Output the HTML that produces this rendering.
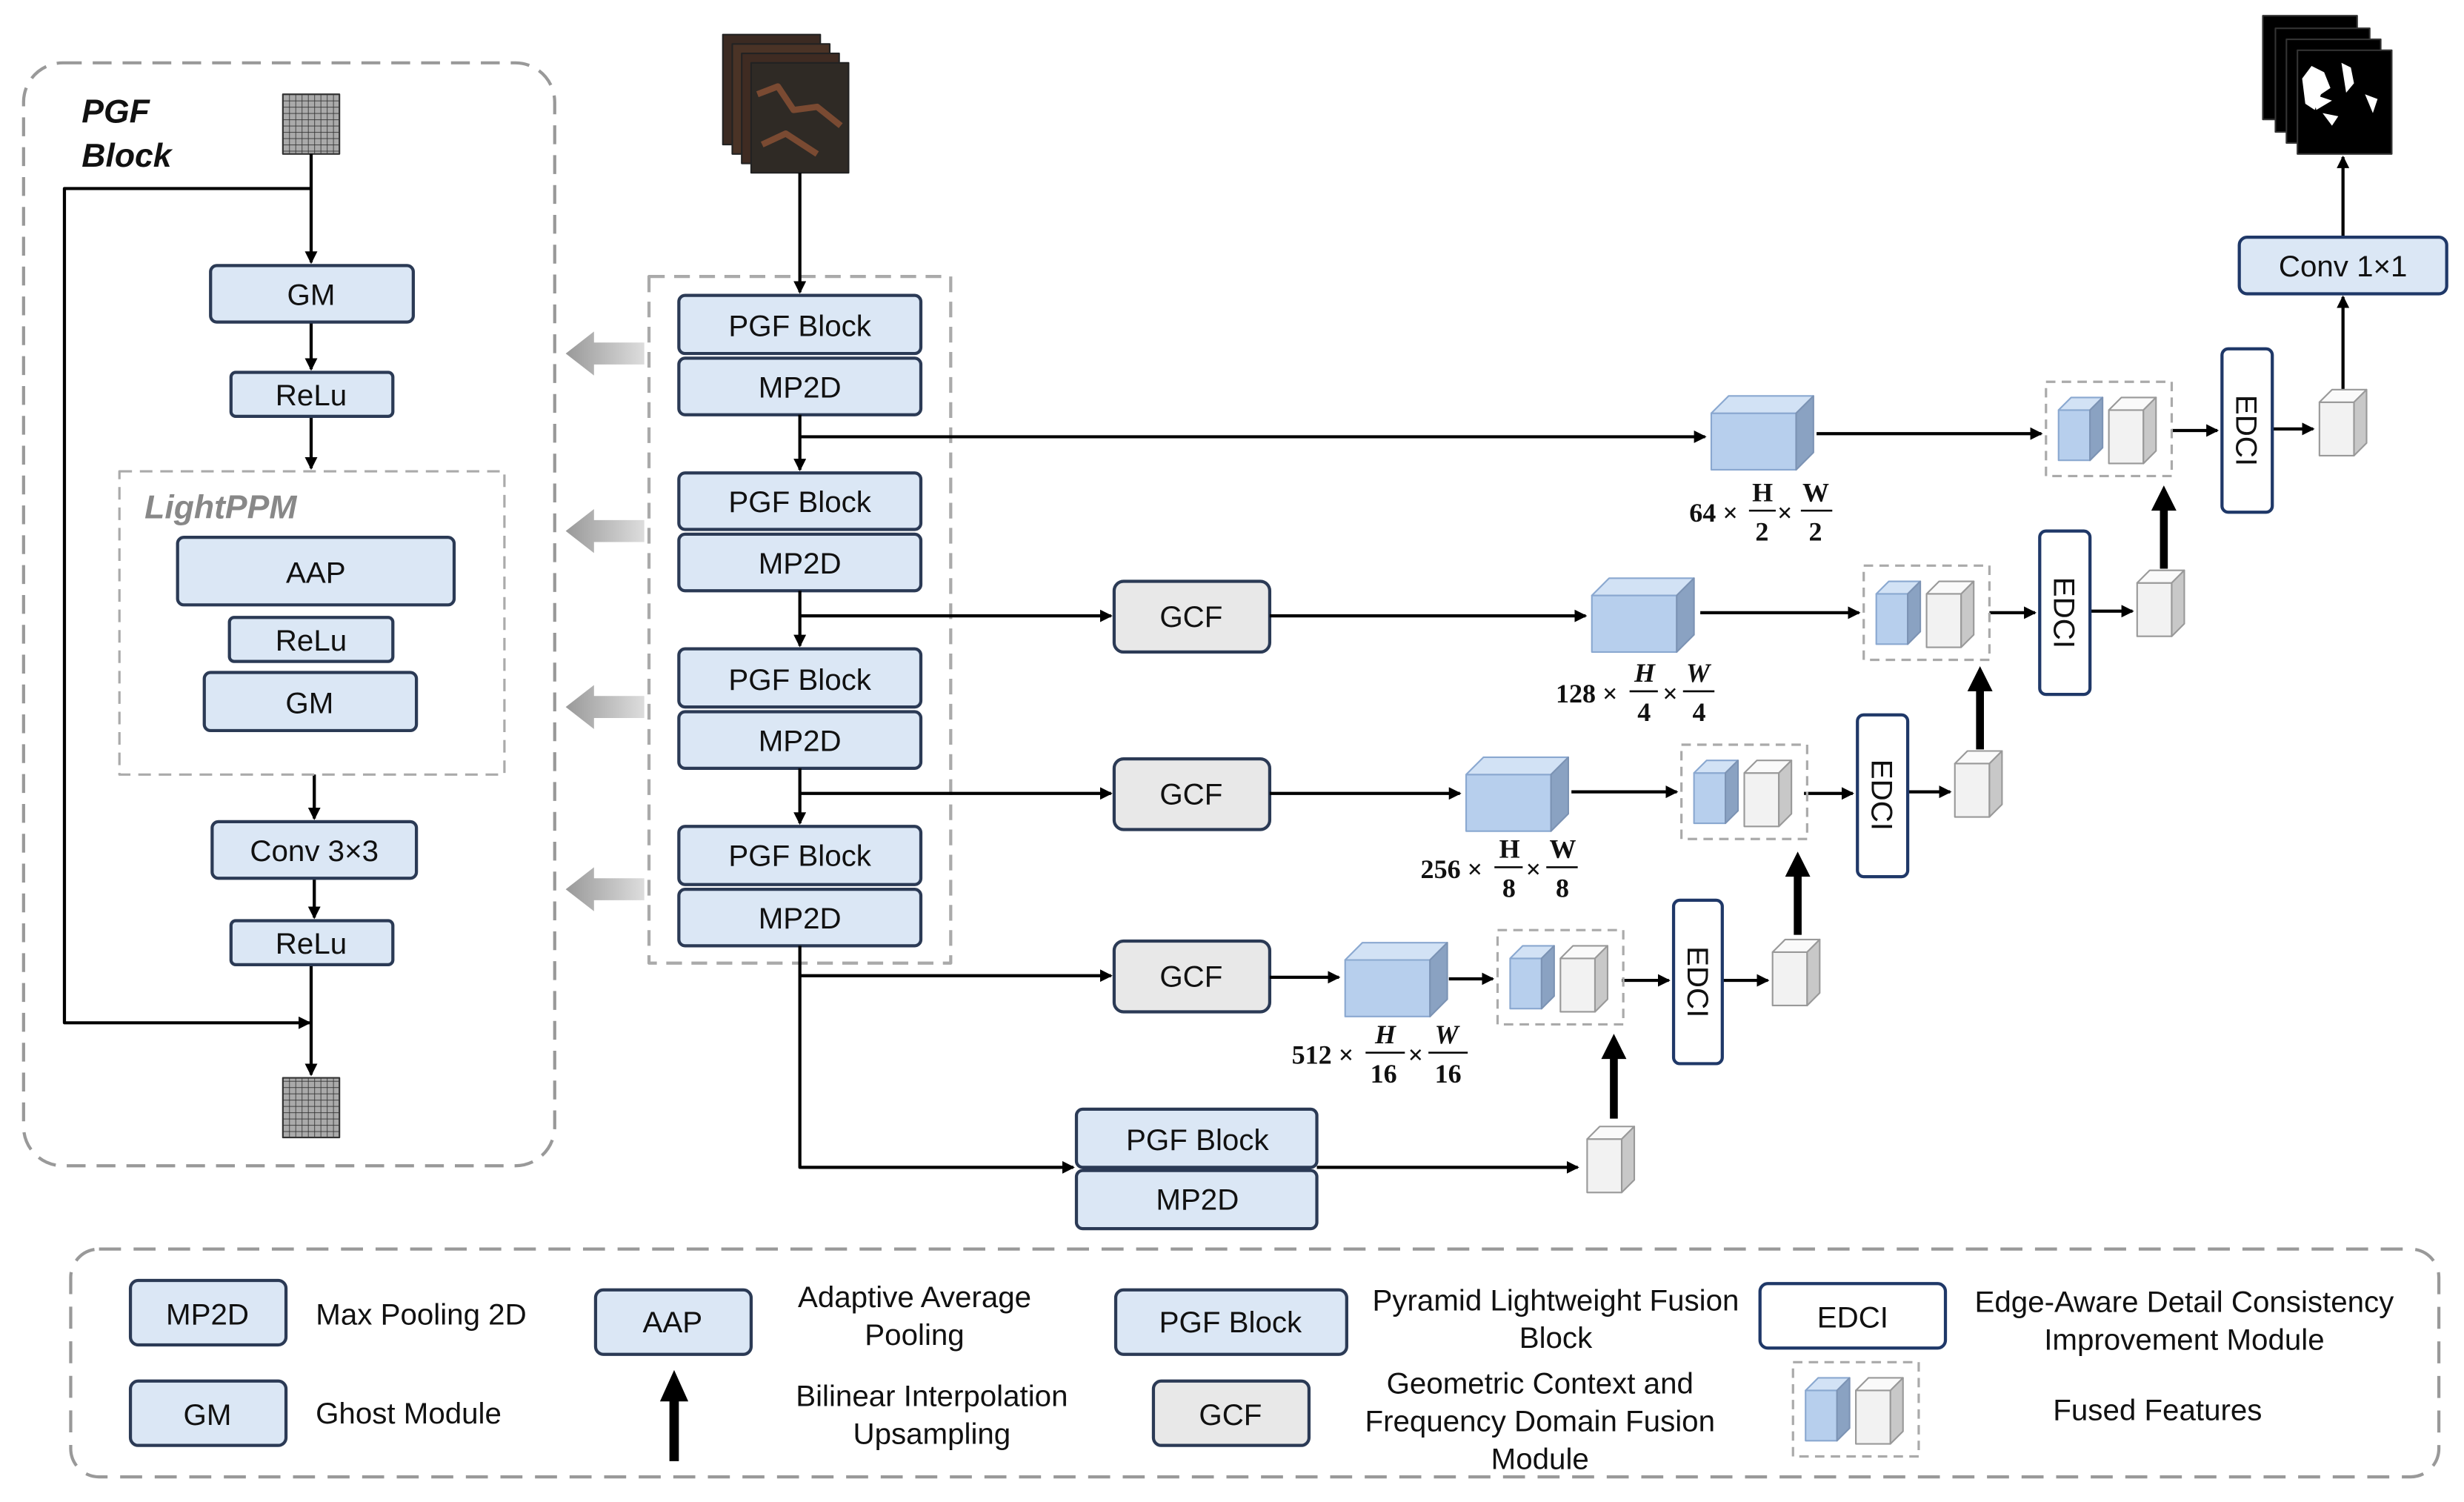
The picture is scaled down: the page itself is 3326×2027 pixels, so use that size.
<!DOCTYPE html>
<html><head><meta charset="utf-8"><style>
html,body{margin:0;padding:0;background:#fff}
svg{display:block}
text{font-family:"Liberation Sans",sans-serif;fill:#111}
.s{font-family:"Liberation Serif",serif;font-weight:bold}
</style></head><body>
<svg width="3326" height="2027" viewBox="0 0 1568 956" preserveAspectRatio="none" xmlns="http://www.w3.org/2000/svg">
<defs>
<marker id="a" markerWidth="8" markerHeight="8" refX="7" refY="4" orient="auto" markerUnits="userSpaceOnUse"><path d="M0,0 L8,4 L0,8 z" fill="#000"/></marker>
<linearGradient id="g" x1="1" x2="0"><stop offset="0" stop-color="#ddd"/><stop offset="1" stop-color="#999"/></linearGradient>
<pattern id="grid" width="4" height="4" patternUnits="userSpaceOnUse"><rect width="4" height="4" fill="#aaa"/><path d="M0,0H4M0,0V4" stroke="#333" stroke-width="0.8"/></pattern>
<g id="bc"><path d="M0,11 L54,11 L54,47 L0,47z" fill="#b7cfed" stroke="#8aa8d0"/><path d="M0,11 L11,0 L65,0 L54,11z" fill="#d2e2f5" stroke="#8aa8d0"/><path d="M54,11 L65,0 L65,36 L54,47z" fill="#8aa2c2" stroke="#7c93b4"/></g>
<g id="gc"><path d="M0,8 L22,8 L22,42 L0,42z" fill="#f2f2f2" stroke="#999"/><path d="M0,8 L8,0 L30,0 L22,8z" fill="#fafafa" stroke="#999"/><path d="M22,8 L30,0 L30,34 L22,42z" fill="#c8c8c8" stroke="#999"/></g>
<g id="bs"><path d="M0,8 L20,8 L20,40 L0,40z" fill="#b7cfed" stroke="#8aa8d0"/><path d="M0,8 L8,0 L28,0 L20,8z" fill="#d2e2f5" stroke="#8aa8d0"/><path d="M20,8 L28,0 L28,32 L20,40z" fill="#8aa2c2" stroke="#7c93b4"/></g>
<g id="ff"><rect x="0" y="0" width="80" height="60" fill="none" stroke="#aaa" stroke-width="1.5" stroke-dasharray="6,4"/><use href="#bs" x="8" y="10"/><use href="#gc" x="40" y="10"/></g>
<g id="la"><path d="M0,0 L18,-14 L18,-7 L50,-7 L50,7 L18,7 L18,14z" fill="url(#g)"/></g>
</defs>
<g stroke-linejoin="round">
<rect x="15" y="40" width="338" height="702" rx="25" fill="none" stroke="#999" stroke-width="2" stroke-dasharray="12,7"/>
<text x="52" y="78" font-size="21" font-weight="bold" font-style="italic">PGF</text>
<text x="52" y="106" font-size="21" font-weight="bold" font-style="italic">Block</text>
<rect x="180" y="60" width="36" height="38" fill="url(#grid)" stroke="#333"/>
<rect x="180" y="686" width="36" height="38" fill="url(#grid)" stroke="#333"/>
<g stroke="#000" stroke-width="2" fill="none">
<path d="M198,98 V167" marker-end="url(#a)"/>
<path d="M198,120 H41 V651 H197" marker-end="url(#a)"/>
<path d="M198,205 V235" marker-end="url(#a)"/>
<path d="M198,265 V298" marker-end="url(#a)"/>
<path d="M200,493 V521" marker-end="url(#a)"/>
<path d="M200,559 V584" marker-end="url(#a)"/>
<path d="M198,614 V684" marker-end="url(#a)"/>
</g>
<g fill="#dbe7f5" stroke="#2b3a55" stroke-width="2">
<rect x="134" y="169" width="129" height="36" rx="4"/>
<rect x="147" y="237" width="103" height="28" rx="3"/>
<rect x="113" y="342" width="176" height="43" rx="4"/>
<rect x="146" y="393" width="104" height="28" rx="3"/>
<rect x="130" y="428" width="135" height="37" rx="4"/>
<rect x="135" y="523" width="130" height="36" rx="4"/>
<rect x="147" y="586" width="103" height="28" rx="3"/>
</g>
<rect x="76" y="300" width="245" height="193" fill="none" stroke="#aaa" stroke-width="1.5" stroke-dasharray="8,5"/>
<text x="92" y="330" font-size="21" font-weight="bold" font-style="italic" style="fill:#888">LightPPM</text>
<g font-size="19" text-anchor="middle">
<text x="198" y="194">GM</text><text x="198" y="258">ReLu</text><text x="201" y="371">AAP</text>
<text x="198" y="414">ReLu</text><text x="197" y="454">GM</text><text x="200" y="548">Conv 3×3</text><text x="198" y="607">ReLu</text>
</g>
<rect x="460" y="22" width="62" height="70" fill="#3b2a22" stroke="#222"/>
<rect x="466" y="28" width="62" height="70" fill="#4a3326" stroke="#222"/>
<rect x="472" y="34" width="62" height="70" fill="#3f2b22" stroke="#222"/>
<rect x="478" y="40" width="62" height="70" fill="#2f2a25" stroke="#222"/>
<path d="M482,60 L495,55 L505,70 L520,68 L535,80 M485,92 L500,85 L520,98" stroke="#7a4a32" stroke-width="4" fill="none"/>
<rect x="413" y="176" width="192" height="437" fill="none" stroke="#aaa" stroke-width="2" stroke-dasharray="10,6"/>
<use href="#la" x="360" y="225"/><use href="#la" x="360" y="338"/><use href="#la" x="360" y="450"/><use href="#la" x="360" y="566"/>
<g fill="#dbe7f5" stroke="#2b3a55" stroke-width="2">
<rect x="432" y="188" width="154" height="37" rx="4"/><rect x="432" y="228" width="154" height="36" rx="4"/>
<rect x="432" y="301" width="154" height="36" rx="4"/><rect x="432" y="340" width="154" height="36" rx="4"/>
<rect x="432" y="413" width="154" height="37" rx="4"/><rect x="432" y="453" width="154" height="36" rx="4"/>
<rect x="432" y="526" width="154" height="37" rx="4"/><rect x="432" y="566" width="154" height="36" rx="4"/>
<rect x="685" y="706" width="153" height="37" rx="4"/><rect x="685" y="745" width="153" height="37" rx="4"/>
</g>
<g fill="#e8e8e8" stroke="#2b3a55" stroke-width="2">
<rect x="709" y="370" width="99" height="45" rx="6"/><rect x="709" y="483" width="99" height="45" rx="6"/><rect x="709" y="599" width="99" height="45" rx="6"/>
</g>
<g font-size="19" text-anchor="middle">
<text x="509" y="214">PGF Block</text><text x="509" y="253">MP2D</text>
<text x="509" y="326">PGF Block</text><text x="509" y="365">MP2D</text>
<text x="509" y="439">PGF Block</text><text x="509" y="478">MP2D</text>
<text x="509" y="551">PGF Block</text><text x="509" y="591">MP2D</text>
<text x="762" y="732">PGF Block</text><text x="762" y="770">MP2D</text>
<text x="758" y="399">GCF</text><text x="758" y="512">GCF</text><text x="758" y="628">GCF</text>
</g>
<g stroke="#000" stroke-width="2" fill="none">
<path d="M509,110 V186" marker-end="url(#a)"/>
<path d="M509,264 V299" marker-end="url(#a)"/>
<path d="M509,278 H1085" marker-end="url(#a)"/>
<path d="M509,376 V411" marker-end="url(#a)"/>
<path d="M509,392 H707" marker-end="url(#a)"/>
<path d="M509,489 V524" marker-end="url(#a)"/>
<path d="M509,505 H707" marker-end="url(#a)"/>
<path d="M509,602 V743 H683" marker-end="url(#a)"/>
<path d="M509,621 H707" marker-end="url(#a)"/>
<path d="M808,392 H1009" marker-end="url(#a)"/>
<path d="M808,505 H929" marker-end="url(#a)"/>
<path d="M808,622 H852" marker-end="url(#a)"/>
<path d="M838,743 H1004" marker-end="url(#a)"/>
<path d="M1156,276 H1299" marker-end="url(#a)"/>
<path d="M1082,390 H1183" marker-end="url(#a)"/>
<path d="M1000,504 H1067" marker-end="url(#a)"/>
<path d="M922,623 H950" marker-end="url(#a)"/>
<path d="M1382,274 H1411" marker-end="url(#a)"/>
<path d="M1446,273 H1472" marker-end="url(#a)"/>
<path d="M1266,390 H1295" marker-end="url(#a)"/>
<path d="M1330,389 H1357" marker-end="url(#a)"/>
<path d="M1148,505 H1179" marker-end="url(#a)"/>
<path d="M1214,504 H1241" marker-end="url(#a)"/>
<path d="M1032,624 H1062" marker-end="url(#a)"/>
<path d="M1096,624 H1125" marker-end="url(#a)"/>
<path d="M1491,248 V189" marker-end="url(#a)"/>
<path d="M1491,151 V100" marker-end="url(#a)"/>
</g>
<g stroke="#000" stroke-width="5">
<path d="M1027,712 V672"/><path d="M1144,595 V556"/><path d="M1260,477 V438"/><path d="M1377,362 V323"/>
</g>
<g fill="#000">
<path d="M1019,674 L1035,674 L1027,658z"/><path d="M1136,558 L1152,558 L1144,542z"/><path d="M1252,440 L1268,440 L1260,424z"/><path d="M1369,325 L1385,325 L1377,309z"/>
</g>
<use href="#bc" x="1089" y="252"/><use href="#bc" x="1013" y="368"/><use href="#bc" x="933" y="482"/><use href="#bc" x="856" y="600"/>
<use href="#ff" x="1302" y="243"/><use href="#ff" x="1186" y="360"/><use href="#ff" x="1070" y="474"/><use href="#ff" x="953" y="592"/>
<use href="#gc" x="1476" y="248"/><use href="#gc" x="1360" y="363"/><use href="#gc" x="1244" y="478"/><use href="#gc" x="1128" y="598"/><use href="#gc" x="1010" y="717"/>
<g fill="#fff" stroke="#1f3868" stroke-width="2">
<rect x="1414" y="222" width="32" height="104" rx="4"/><rect x="1298" y="338" width="32" height="104" rx="4"/>
<rect x="1182" y="455" width="32" height="103" rx="4"/><rect x="1065" y="573" width="31" height="104" rx="4"/>
<rect x="1425" y="151" width="132" height="36" rx="5" fill="#dbe7f5"/>
</g>
<g font-size="19" text-anchor="middle">
<text transform="translate(1423,274) rotate(90)">EDCI</text><text transform="translate(1307,390) rotate(90)">EDCI</text>
<text transform="translate(1191,506) rotate(90)">EDCI</text><text transform="translate(1074,625) rotate(90)">EDCI</text>
<text x="1491" y="176">Conv 1×1</text>
</g>
<rect x="1440" y="10" width="60" height="66" fill="#000" stroke="#333"/>
<rect x="1448" y="18" width="60" height="66" fill="#000" stroke="#333"/>
<rect x="1455" y="25" width="60" height="66" fill="#000" stroke="#333"/>
<rect x="1462" y="32" width="60" height="66" fill="#000" stroke="#333"/>
<path d="M1465,50 l6,-8 l8,4 l4,10 l-6,4 l-4,10 l-6,-4z M1490,40 l6,3 l2,10 l-5,6z M1478,72 l10,2 l-4,6z M1505,60 l8,3 l-3,9z M1472,60 l12,4 l-10,6z" fill="#fff"/>
<g font-size="17">
<text x="1075" y="332" class="s">64 ×</text><text x="1115" y="319" class="s">H</text><text x="1117" y="344" class="s">2</text><text x="1131" y="332" class="s">×</text><text x="1147" y="319" class="s">W</text><text x="1151" y="344" class="s">2</text>
<text x="990" y="447" class="s">128 ×</text><text x="1040" y="434" class="s" font-style="italic">H</text><text x="1042" y="459" class="s">4</text><text x="1058" y="447" class="s">×</text><text x="1073" y="434" class="s" font-style="italic">W</text><text x="1077" y="459" class="s">4</text>
<text x="904" y="559" class="s">256 ×</text><text x="954" y="546" class="s">H</text><text x="956" y="571" class="s">8</text><text x="971" y="559" class="s">×</text><text x="986" y="546" class="s">W</text><text x="990" y="571" class="s">8</text>
<text x="822" y="677" class="s">512 ×</text><text x="875" y="664" class="s" font-style="italic">H</text><text x="872" y="689" class="s">16</text><text x="896" y="677" class="s">×</text><text x="913" y="664" class="s" font-style="italic">W</text><text x="913" y="689" class="s">16</text>
</g>
<g stroke="#000" stroke-width="1.2">
<path d="M1113,325 H1130 M1146,325 H1166 M1037,440 H1055 M1071,440 H1091 M951,552 H969 M984,552 H1004 M869,670 H894 M909,670 H934"/>
</g>
<rect x="45" y="795" width="1507" height="145" rx="18" fill="none" stroke="#999" stroke-width="2" stroke-dasharray="14,8"/>
<g fill="#dbe7f5" stroke="#2b3a55" stroke-width="2">
<rect x="83" y="815" width="99" height="41" rx="5"/><rect x="83" y="879" width="99" height="41" rx="5"/>
<rect x="379" y="821" width="99" height="41" rx="5"/><rect x="710" y="821" width="147" height="41" rx="5"/>
<rect x="734" y="879" width="99" height="41" rx="5" fill="#e8e8e8"/><rect x="1120" y="817" width="118" height="41" rx="5" fill="#fff" stroke="#1f3868"/>
</g>
<path d="M429,930 V890" stroke="#000" stroke-width="6"/><path d="M420,892 L438,892 L429,872z" fill="#000"/>
<use href="#ff" x="1141" y="867"/>
<g font-size="19" text-anchor="middle">
<text x="132" y="843">MP2D</text><text x="132" y="907">GM</text><text x="428" y="848">AAP</text><text x="783" y="848">PGF Block</text>
<text x="783" y="907">GCF</text><text x="1179" y="845">EDCI</text>
<text x="268" y="843">Max Pooling 2D</text><text x="260" y="906">Ghost Module</text>
<text x="582" y="832">Adaptive Average</text><text x="582" y="856">Pooling</text>
<text x="593" y="895">Bilinear Interpolation</text><text x="593" y="919">Upsampling</text>
<text x="990" y="834">Pyramid Lightweight Fusion</text><text x="990" y="858">Block</text>
<text x="980" y="887">Geometric Context and</text><text x="980" y="911">Frequency Domain Fusion</text><text x="980" y="935">Module</text>
<text x="1390" y="835">Edge-Aware Detail Consistency</text><text x="1390" y="859">Improvement Module</text>
<text x="1373" y="904">Fused Features</text>
</g>
</g>
</svg>
</body></html>
